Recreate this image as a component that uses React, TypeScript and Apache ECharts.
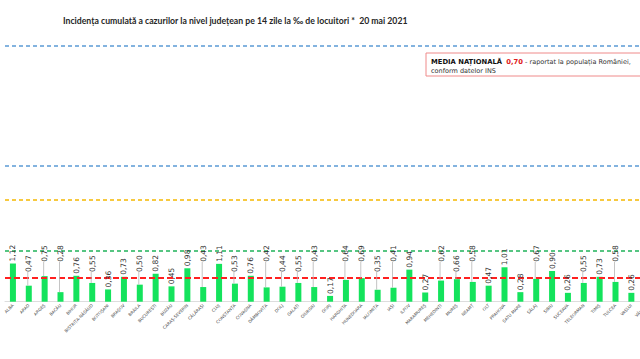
import React, { useEffect, useRef } from "react";
import * as echarts from "echarts";

const counties = [
  "ALBA", "ARAD", "ARGEȘ", "BACĂU", "BIHOR", "BISTRIȚA-NĂSĂUD", "BOTOȘANI", "BRAȘOV",
  "BRĂILA", "BUCUREȘTI", "BUZĂU", "CARAȘ-SEVERIN", "CĂLĂRAȘI", "CLUJ", "CONSTANȚA",
  "COVASNA", "DÂMBOVIȚA", "DOLJ", "GALAȚI", "GIURGIU", "GORJ", "HARGHITA", "HUNEDOARA",
  "IALOMIȚA", "IAȘI", "ILFOV", "MARAMUREȘ", "MEHEDINȚI", "MUREȘ", "NEAMȚ", "OLT",
  "PRAHOVA", "SATU MARE", "SĂLAJ", "SIBIU", "SUCEAVA", "TELEORMAN", "TIMIȘ", "TULCEA",
  "VASLUI", "VÂLCEA", "VRANCEA",
];

// cumulative 14-day incidence per 1000 inhabitants (last two counties are cut off in the picture)
const incidence: (number | null)[] = [
  1.12, 0.47, 0.75, 0.28, 0.76, 0.55, 0.36, 0.73, 0.5, 0.82, 0.45, 0.98, 0.43, 1.11,
  0.53, 0.76, 0.42, 0.44, 0.55, 0.43, 0.17, 0.64, 0.69, 0.35, 0.41, 0.94, 0.27, 0.62,
  0.66, 0.58, 0.47, 1.01, 0.28, 0.67, 0.9, 0.26, 0.55, 0.73, 0.58, 0.26, null, null,
];

const nationalAverage = 0.7;
const scenarioThresholds = [7.5, 4, 3, 1.5];
const thresholdColors = ["#5b9bd5", "#5b9bd5", "#f5b800", "#1fb35a"];

// label placement tier (0 = on the bar, 1 = lower lifted row, 2 = upper lifted row)
const labelTier = [
  0, 1, 2, 2, 0, 1, 0, 0, 1, 0, 0, 0, 2, 0, 1, 0, 2, 1, 1, 2, 0, 2, 2, 1, 2, 0, 0, 2,
  1, 2, 0, 0, 0, 2, 0, 0, 1, 0, 2, 0, 0, 0,
];
const tierLevel = [0, 0.87, 1.17];

const fmt = (v: number) => v.toFixed(2).replace(".", ",");

export default function App() {
  const ref = useRef<HTMLDivElement>(null);
  useEffect(() => {
    document.body.style.margin = "0";
    const chart = echarts.init(ref.current!, null, { renderer: "svg" });
    const markData: any[] = scenarioThresholds.map((t, i) => ({
      yAxis: t,
      lineStyle: { color: thresholdColors[i], type: [4, 3], width: 1.5 },
    }));
    markData.push({
      yAxis: nationalAverage,
      lineStyle: { color: "#ff2020", type: [6, 3], width: 2 },
    });
    const labelData = incidence.map((v, i) => [i, v, labelTier[i]]);
    chart.setOption({
      animation: false,
      backgroundColor: "#ffffff",
      title: {
        text: "Incidența cumulată a cazurilor la nivel județean pe 14 zile la ‰ de locuitori *  20 mai 2021",
        left: 58,
        top: 11,
        textStyle: { fontFamily: "Lato", fontWeight: "bold", fontSize: 8.7, color: "#262626" },
      },
      grid: { left: 5, width: 666, top: 46, bottom: 57.3, outerBoundsMode: "none", containLabel: false },
      xAxis: {
        type: "category",
        data: counties,
        axisLine: { show: true, lineStyle: { color: "#dddddd", width: 1 } },
        axisTick: { show: false },
        axisLabel: {
          interval: 0,
          rotate: 45,
          fontSize: 4.2,
          margin: 3,
          color: "#444444",
          fontFamily: "DejaVu Sans",
        },
      },
      yAxis: {
        type: "value",
        min: 0,
        max: 7.5,
        show: false,
        splitLine: { show: false },
      },
      series: [
        {
          type: "bar",
          data: incidence,
          barWidth: 6,
          itemStyle: { color: "#14e35c" },
          markLine: {
            silent: true,
            symbol: "none",
            label: { show: false },
            data: markData,
          },
        },
        {
          type: "custom",
          data: labelData,
          silent: true,
          z: 5,
          renderItem: (params: any, api: any) => {
            const v = api.value(1);
            if (v == null || isNaN(v)) return null;
            const i = api.value(0);
            const tier = api.value(2);
            const top = api.coord([i, v]);
            const children: any[] = [];
            let anchorY = top[1] - 2;
            if (tier > 0 && tierLevel[tier] > v) {
              const lvl = api.coord([i, tierLevel[tier]]);
              anchorY = lvl[1];
              children.push({
                type: "line",
                shape: { x1: top[0] - 1, y1: top[1], x2: top[0] - 1, y2: anchorY },
                style: { stroke: "#b5b5b5", lineWidth: 0.8 },
              });
            }
            children.push({
              type: "text",
              x: top[0],
              y: anchorY,
              rotation: Math.PI / 2,
              style: {
                text: fmt(v),
                fontSize: 7.5,
                fontFamily: "DejaVu Sans",
                fill: "#333333",
                align: "left",
                verticalAlign: "middle",
              },
            });
            return { type: "group", children };
          },
        },
      ],
      graphic: [
        {
          type: "rect",
          shape: { x: 426, y: 53, width: 240, height: 23 },
          style: { fill: "#ffffff", stroke: "#ef8a8a", lineWidth: 1 },
          z: 10,
        },
        {
          type: "text",
          x: 431,
          y: 57.5,
          z: 11,
          style: {
            text: "{b|MEDIA NAȚIONALĂ}  {r|0,70} - raportat la populația României,\nconform datelor INS",
            fontFamily: "DejaVu Sans",
            fontSize: 6.5,
            fill: "#333333",
            lineHeight: 9,
            rich: {
              b: { fontWeight: "bold", fill: "#111111", fontSize: 6.8, fontFamily: "DejaVu Sans" },
              r: { fontWeight: "bold", fill: "#e02020", fontSize: 6.8, fontFamily: "DejaVu Sans" },
            },
          },
        },
      ],
    });
    return () => chart.dispose();
  }, []);
  return <div ref={ref} style={{ position: "fixed", left: 0, top: 0, width: 640, height: 359 }} />;
}
